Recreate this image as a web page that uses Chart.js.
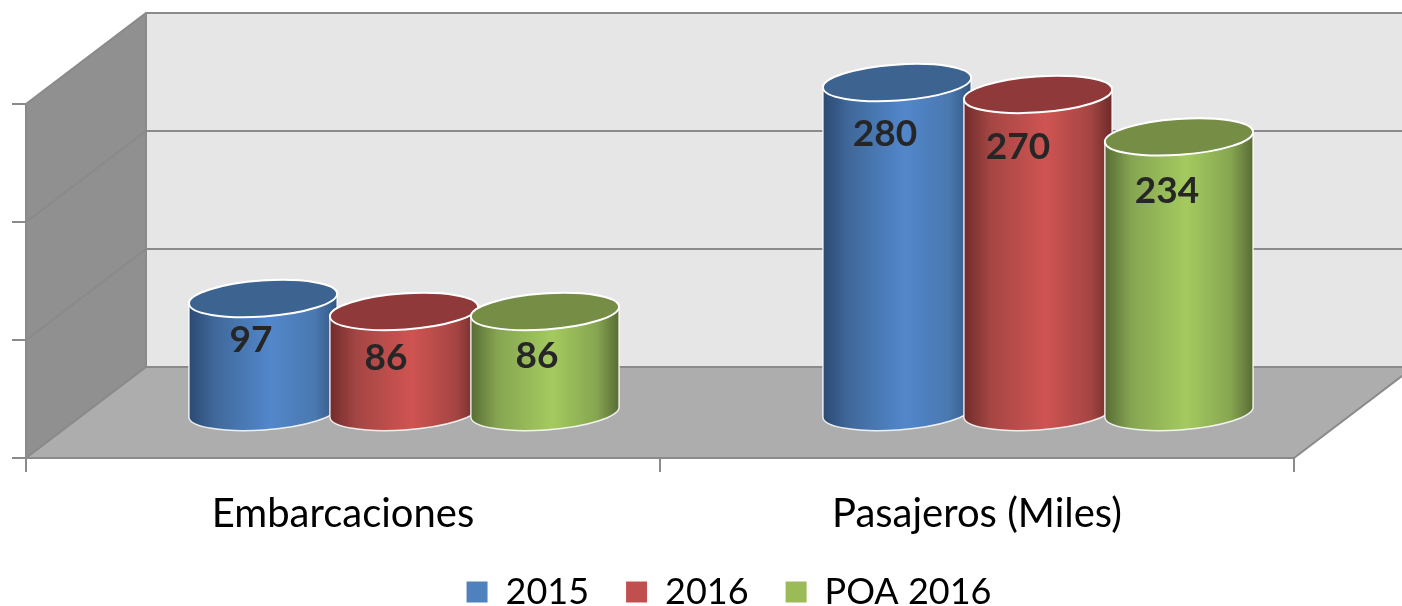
<!DOCTYPE html>
<html><head><meta charset="utf-8">
<script src="https://cdn.jsdelivr.net/npm/chart.js@4"></script>
<style>html,body{margin:0;padding:0;background:#fff;overflow:hidden}canvas{display:block}</style>
</head><body><canvas id="c" width="1402" height="606"></canvas>
<script>
const categories = ['Embarcaciones', 'Pasajeros (Miles)'];
const seriesNames = ['2015', '2016', 'POA 2016'];
const values2015 = [97, 280];
const values2016 = [86, 270];
const valuesPoa = [86, 234];
const yTicks = [0, 100, 200, 300];

const legendColors = ['#4f81bd', '#c0504d', '#9bbb59'];
const topColors = ['#3d6390', '#90393a', '#768d45'];
const sideStops = [
  ['#2b4a73', '#40699b', '#5287cb', '#4a78b0', '#33557f'],
  ['#702c2b', '#a44644', '#cf5452', '#a54543', '#6b2b2a'],
  ['#586c34', '#86a552', '#a4ca5f', '#86a551', '#586b34']
];
const depthX = 120, depthY = 91;      // wall depth of the 3-D box
const barShiftX = 61, barShiftY = 45; // cylinders stand mid-way on the floor
const tilt = -4 * Math.PI / 180, capRy = 18;
const labelNudge = [[[-12, 42], [-12, 51]], [[-18, 47], [-20, 53]], [[-8, 45], [-12, 54]]];
const labelFont = 'bold 37px Lato';

// Cylinders are painted by the plugin below, left to right, from the library's bar elements.
Chart.BarElement.prototype.draw = function () {};

function drawCylinder(ctx, el, ds) {
  const rx = el.width * 0.527;
  const cx = el.x + barShiftX;
  const top = el.y - barShiftY;
  const bot = el.base - barShiftY;
  const g = ctx.createLinearGradient(cx - rx, 0, cx + rx, 0);
  const st = sideStops[ds];
  [0, 0.18, 0.55, 0.85, 1].forEach((p, i) => g.addColorStop(p, st[i]));
  ctx.save();
  ctx.beginPath();
  ctx.ellipse(cx, bot, rx, capRy, tilt, 0, Math.PI);
  ctx.ellipse(cx, top, rx, capRy, tilt, Math.PI, 0);
  ctx.closePath();
  ctx.fillStyle = g;
  ctx.fill();
  ctx.strokeStyle = 'rgba(255,255,255,0.85)';
  ctx.lineWidth = 1.5;
  ctx.stroke();
  ctx.beginPath();
  ctx.ellipse(cx, top, rx, capRy, tilt, 0, Math.PI * 2);
  ctx.fillStyle = topColors[ds];
  ctx.fill();
  ctx.strokeStyle = '#ffffff';
  ctx.lineWidth = 2;
  ctx.stroke();
  ctx.restore();
}

const box3d = {
  id: 'box3d',
  afterLayout(chart) {
    const lg = chart.legend;
    lg.left += 76;
    lg.right += 76;
    const h = lg.bottom - lg.top;
    lg.top = 537;
    lg.bottom = 537 + h;
  },
  beforeDraw(chart) {
    const { ctx, scales: { x, y } } = chart;
    const l = x.left, r = x.right;
    const y0 = y.getPixelForValue(yTicks[0]);
    const yT = y.getPixelForValue(yTicks[yTicks.length - 1]);
    ctx.save();
    ctx.fillStyle = '#e6e6e6';
    ctx.fillRect(l + depthX, yT - depthY, r - l, y0 - yT);
    ctx.beginPath();
    ctx.moveTo(l, y0); ctx.lineTo(l + depthX, y0 - depthY);
    ctx.lineTo(r + depthX, y0 - depthY); ctx.lineTo(r, y0); ctx.closePath();
    ctx.fillStyle = '#adadad'; ctx.fill();
    ctx.beginPath();
    ctx.moveTo(l, y0); ctx.lineTo(l + depthX, y0 - depthY);
    ctx.lineTo(l + depthX, yT - depthY); ctx.lineTo(l, yT); ctx.closePath();
    ctx.fillStyle = '#909090'; ctx.fill();
    ctx.strokeStyle = '#8a8a8a'; ctx.lineWidth = 2;
    yTicks.forEach(v => {
      const py = y.getPixelForValue(v);
      ctx.beginPath();
      ctx.moveTo(l, py); ctx.lineTo(l + depthX, py - depthY);
      ctx.lineTo(r + depthX, py - depthY);
      ctx.stroke();
    });
    ctx.beginPath();
    ctx.moveTo(l + depthX, y0 - depthY); ctx.lineTo(l + depthX, yT - depthY);
    ctx.moveTo(r, y0); ctx.lineTo(r + depthX, y0 - depthY);
    ctx.stroke();
    ctx.restore();
  },
  afterDatasetsDraw(chart) {
    const { ctx } = chart;
    chart.data.datasets.forEach((d, i) => {
      chart.getDatasetMeta(i).data.forEach(el => drawCylinder(ctx, el, i));
    });
    ctx.save();
    ctx.font = labelFont;
    ctx.fillStyle = '#262626';
    ctx.textAlign = 'center';
    ctx.textBaseline = 'middle';
    chart.data.datasets.forEach((d, i) => {
      chart.getDatasetMeta(i).data.forEach((el, j) => {
        const n = labelNudge[i][j];
        ctx.fillText(String(d.data[j]), el.x + barShiftX + n[0], el.y - barShiftY + n[1]);
      });
    });
    ctx.restore();
  }
};

const allSeries = [values2015, values2016, valuesPoa];
new Chart(document.getElementById('c'), {
  type: 'bar',
  data: {
    labels: categories,
    datasets: seriesNames.map((name, i) => ({
      label: name,
      data: allSeries[i],
      backgroundColor: legendColors[i],
      borderWidth: 0,
      clip: false,
      categoryPercentage: 0.667,
      barPercentage: 1
    }))
  },
  options: {
    responsive: false,
    animation: false,
    layout: { padding: { left: 12, right: 108, top: 104, bottom: -40 } },
    plugins: {
      tooltip: { enabled: false },
      legend: {
        position: 'bottom',
        labels: {
          boxWidth: 21, boxHeight: 21, padding: 37, color: '#000',
          font: { family: 'Lato', size: 36 }
        }
      }
    },
    scales: {
      x: {
        grid: { drawOnChartArea: false, color: '#8a8a8a', lineWidth: 2, tickLength: 14 },
        border: { color: '#8a8a8a', width: 2 },
        ticks: { color: '#000', font: { family: 'Lato', size: 40 }, padding: 18, maxRotation: 0 },
        afterFit(s) { s.height = 105; }
      },
      y: {
        min: yTicks[0], max: yTicks[yTicks.length - 1],
        grid: { drawOnChartArea: false, color: '#8a8a8a', lineWidth: 2, tickLength: 14 },
        border: { color: '#8a8a8a', width: 2 },
        ticks: { display: false, stepSize: 100 }
      }
    }
  },
  plugins: [box3d]
});
</script></body></html>
